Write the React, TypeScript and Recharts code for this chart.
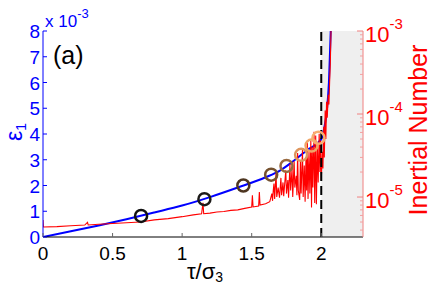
import React from "react";
import {
  ComposedChart,
  Line,
  Scatter,
  XAxis,
  YAxis,
  ReferenceArea,
  ReferenceLine,
  Cell,
} from "recharts";

// strain curve, eps1 in units of 1e-3
const blueX = [0, 0.2, 0.4, 0.6, 0.8, 1.0, 1.2, 1.4, 1.6, 1.7, 1.8, 1.9, 2.0, 2.02, 2.04, 2.055, 2.07, 2.08];
const blueY = [0, 0.22, 0.45, 0.69, 0.95, 1.22, 1.55, 1.92, 2.32, 2.57, 2.95, 3.38, 3.8, 4.2, 4.9, 6.0, 8.3, 9.5];

// inertial number, in units of 1e-6
const redX = [
  0, 0.003, 0.1, 0.2, 0.3, 0.32, 0.325, 0.4, 0.5, 0.6, 0.7, 0.8, 0.9, 1.0, 1.08, 1.14, 1.15, 1.155,
  1.2, 1.25, 1.3, 1.35, 1.4, 1.45, 1.5, 1.505, 1.51, 1.55, 1.555, 1.56, 1.6, 1.63, 1.645, 1.65, 1.655,
  1.66, 1.665, 1.675, 1.68, 1.69, 1.7, 1.71, 1.715, 1.725, 1.73, 1.745, 1.75, 1.76, 1.765, 1.775,
  1.78, 1.79, 1.795, 1.805, 1.81, 1.82, 1.825, 1.83, 1.835, 1.845, 1.85, 1.855, 1.865, 1.87, 1.878,
  1.884, 1.89, 1.895, 1.9, 1.905, 1.912, 1.918, 1.925, 1.93, 1.935, 1.94, 1.948, 1.953, 1.96, 1.965,
  1.972, 1.978, 1.985, 1.99, 1.995, 2.0, 2.008, 2.012, 2.018, 2.022, 2.028, 2.033, 2.038, 2.043,
  2.05, 2.055, 2.06, 2.065, 2.07, 2.075,
];
const redY = [
  5.3, 4.35, 4.4, 4.5, 4.6, 4.95, 4.6, 4.7, 4.8, 4.9, 5.0, 5.3, 5.5, 5.8, 6.1, 6.3, 8.5, 6.3,
  6.4, 6.6, 6.7, 6.9, 7.0, 7.3, 7.6, 10.5, 7.6, 7.8, 11.5, 8.0, 8.3, 8.8, 11, 9.0, 12,
  14.5, 9.5, 19.5, 10, 13, 9.8, 17, 10.5, 15, 10.2, 21, 11, 16, 9.8, 25,
  12, 22, 10, 27, 13, 18, 10.5, 34, 12, 9.2, 28, 11, 37, 10, 24,
  8.8, 30, 12, 45, 9.5, 35, 11, 48, 7.5, 40, 13, 61, 8.5, 55, 8.2,
  42, 15, 58, 20, 48, 16, 35, 22, 70, 30, 110, 50, 140, 90,
  170, 130, 240, 400, 1000, 1500,
];

// loading snapshots marked with circles
const circX = [0.705, 1.16, 1.44, 1.64, 1.75, 1.855, 1.93, 1.98];
const circY = [0.82, 1.47, 2.0, 2.42, 2.76, 3.19, 3.55, 3.85];
const circColors = ["#111111", "#1c1a18", "#4d3520", "#75512f", "#98693f", "#de965e", "#f0a566", "#f6ae70"];

const xTicks = [0, 0.5, 1, 1.5, 2];
const leftTicks = [0, 1, 2, 3, 4, 5, 6, 7, 8];
const rightMajor = [1e-5, 1e-4, 1e-3];
const rightMinor = [
  4e-6, 5e-6, 6e-6, 7e-6, 8e-6, 9e-6,
  2e-5, 3e-5, 4e-5, 5e-5, 6e-5, 7e-5, 8e-5, 9e-5,
  2e-4, 3e-4, 4e-4, 5e-4, 6e-4, 7e-4, 8e-4, 9e-4,
];
const rightTicks = [...rightMinor, ...rightMajor].sort((a, b) => a - b);

const blueData = blueX.map((x, i) => ({ x, y: blueY[i] }));
const redData = redX.map((x, i) => ({ x, y: redY[i] * 1e-6 }));
const circData = circX.map((x, i) => ({ x, y: circY[i] }));

const FONT = "'Liberation Sans', Arial, sans-serif";

const XTick = ({ x, y, payload }: any) => (
  <g>
    <line x1={x} y1={y} x2={x} y2={y - 4} stroke="#666" />
    <text x={x} y={y + 23} textAnchor="middle" fontSize={19} fill="#000" fontFamily={FONT}>
      {payload.value}
    </text>
  </g>
);

const TopTick = ({ x, y }: any) => <line x1={x} y1={y} x2={x} y2={y + 4} stroke="#666" />;

const LeftTick = ({ x, y, payload }: any) => (
  <g>
    <line x1={x} y1={y} x2={x + 4} y2={y} stroke="#0000ff" />
    <text x={x - 3} y={y + 7} textAnchor="end" fontSize={19} fill="#0000ff" fontFamily={FONT}>
      {payload.value}
    </text>
  </g>
);

const RightTick = ({ x, y, payload }: any) => {
  const major = rightMajor.includes(payload.value);
  if (!major) return <line x1={x} y1={y} x2={x - 3} y2={y} stroke="#f3a0a0" />;
  const exp = Math.round(Math.log10(payload.value));
  return (
    <g>
      <line x1={x} y1={y} x2={x - 6} y2={y} stroke="#f08080" />
      <text x={x + 2} y={y + 11} fontSize={22} fill="#ff0000" fontFamily={FONT}>
        10
        <tspan dy={-13} fontSize={15}>
          {exp}
        </tspan>
      </text>
    </g>
  );
};

const Ring = (props: any) => (
  <circle cx={props.cx} cy={props.cy} r={6} fill="none" stroke={props.fill} strokeWidth={2.5} />
);

export default function App() {
  return (
    <div style={{ position: "absolute", left: 0, top: 0, width: 432, height: 286, background: "#fff" }}>
      <ComposedChart width={432} height={286} margin={{ top: 31, right: 0, bottom: 0, left: 13 }}>
        <XAxis
          xAxisId="b"
          dataKey="x"
          type="number"
          domain={[0, 2.3]}
          allowDataOverflow
          ticks={xTicks}
          interval={0}
          height={49}
          tickSize={0}
          tickMargin={0}
          tickLine={false}
          axisLine={{ stroke: "#000" }}
          tick={<XTick />}
        />
        <XAxis
          xAxisId="t"
          orientation="top"
          dataKey="x"
          type="number"
          domain={[0, 2.3]}
          allowDataOverflow
          ticks={xTicks}
          interval={0}
          height={0}
          tickSize={0}
          tickMargin={0}
          tickLine={false}
          axisLine={{ stroke: "#000" }}
          tick={<TopTick />}
        />
        <YAxis
          yAxisId="l"
          type="number"
          domain={[0, 8]}
          allowDataOverflow
          ticks={leftTicks}
          interval={0}
          width={30}
          tickSize={0}
          tickMargin={0}
          tickLine={false}
          axisLine={{ stroke: "#0000ff" }}
          tick={<LeftTick />}
        />
        <YAxis
          yAxisId="r"
          orientation="right"
          type="number"
          scale="log"
          domain={[3.3e-6, 1e-3]}
          allowDataOverflow
          ticks={rightTicks}
          interval={0}
          width={69}
          tickSize={0}
          tickMargin={0}
          tickLine={false}
          axisLine={{ stroke: "#f08080" }}
          tick={<RightTick />}
        />
        <ReferenceArea xAxisId="b" yAxisId="l" x1={2} x2={2.3} y1={0} y2={8} fill="#efefef" fillOpacity={1} stroke="none" />
        <Line
          xAxisId="b"
          yAxisId="l"
          data={blueData}
          dataKey="y"
          type="monotone"
          stroke="#0000ff"
          strokeWidth={2}
          dot={false}
          isAnimationActive={false}
        />
        <Line
          xAxisId="b"
          yAxisId="r"
          data={redData}
          dataKey="y"
          type="linear"
          stroke="#ff0000"
          strokeWidth={1.1}
          dot={false}
          isAnimationActive={false}
        />
        <Scatter xAxisId="b" yAxisId="l" data={circData} dataKey="y" shape={Ring} isAnimationActive={false}>
          {circData.map((_, i) => (
            <Cell key={`c-${i}`} fill={circColors[i]} />
          ))}
        </Scatter>
        <ReferenceLine xAxisId="b" yAxisId="l" x={2} stroke="#000" strokeWidth={2} strokeDasharray="9 5" />
      </ComposedChart>
      <svg
        width={432}
        height={286}
        style={{ position: "absolute", left: 0, top: 0, pointerEvents: "none" }}
        fontFamily={FONT}
      >
        <text x={45} y={27} fontSize={17} fill="#0000ff">
          x 10
          <tspan dy={-9} fontSize={13}>
            -3
          </tspan>
        </text>
        <text x={53} y={64} fontSize={25} fill="#000">
          (a)
        </text>
        <text x={205} y={279} textAnchor="middle" fontSize={22} fill="#000">
          τ/σ
          <tspan dy={3} fontSize={14}>
            3
          </tspan>
        </text>
        <text transform="translate(22,132) rotate(-90)" textAnchor="middle" fontSize={23} fill="#0000ff">
          ε
          <tspan dy={4} fontSize={14}>
            1
          </tspan>
        </text>
        <text transform="translate(427,130) rotate(-90)" textAnchor="middle" fontSize={25} fill="#ff0000">
          Inertial Number
        </text>
      </svg>
    </div>
  );
}
